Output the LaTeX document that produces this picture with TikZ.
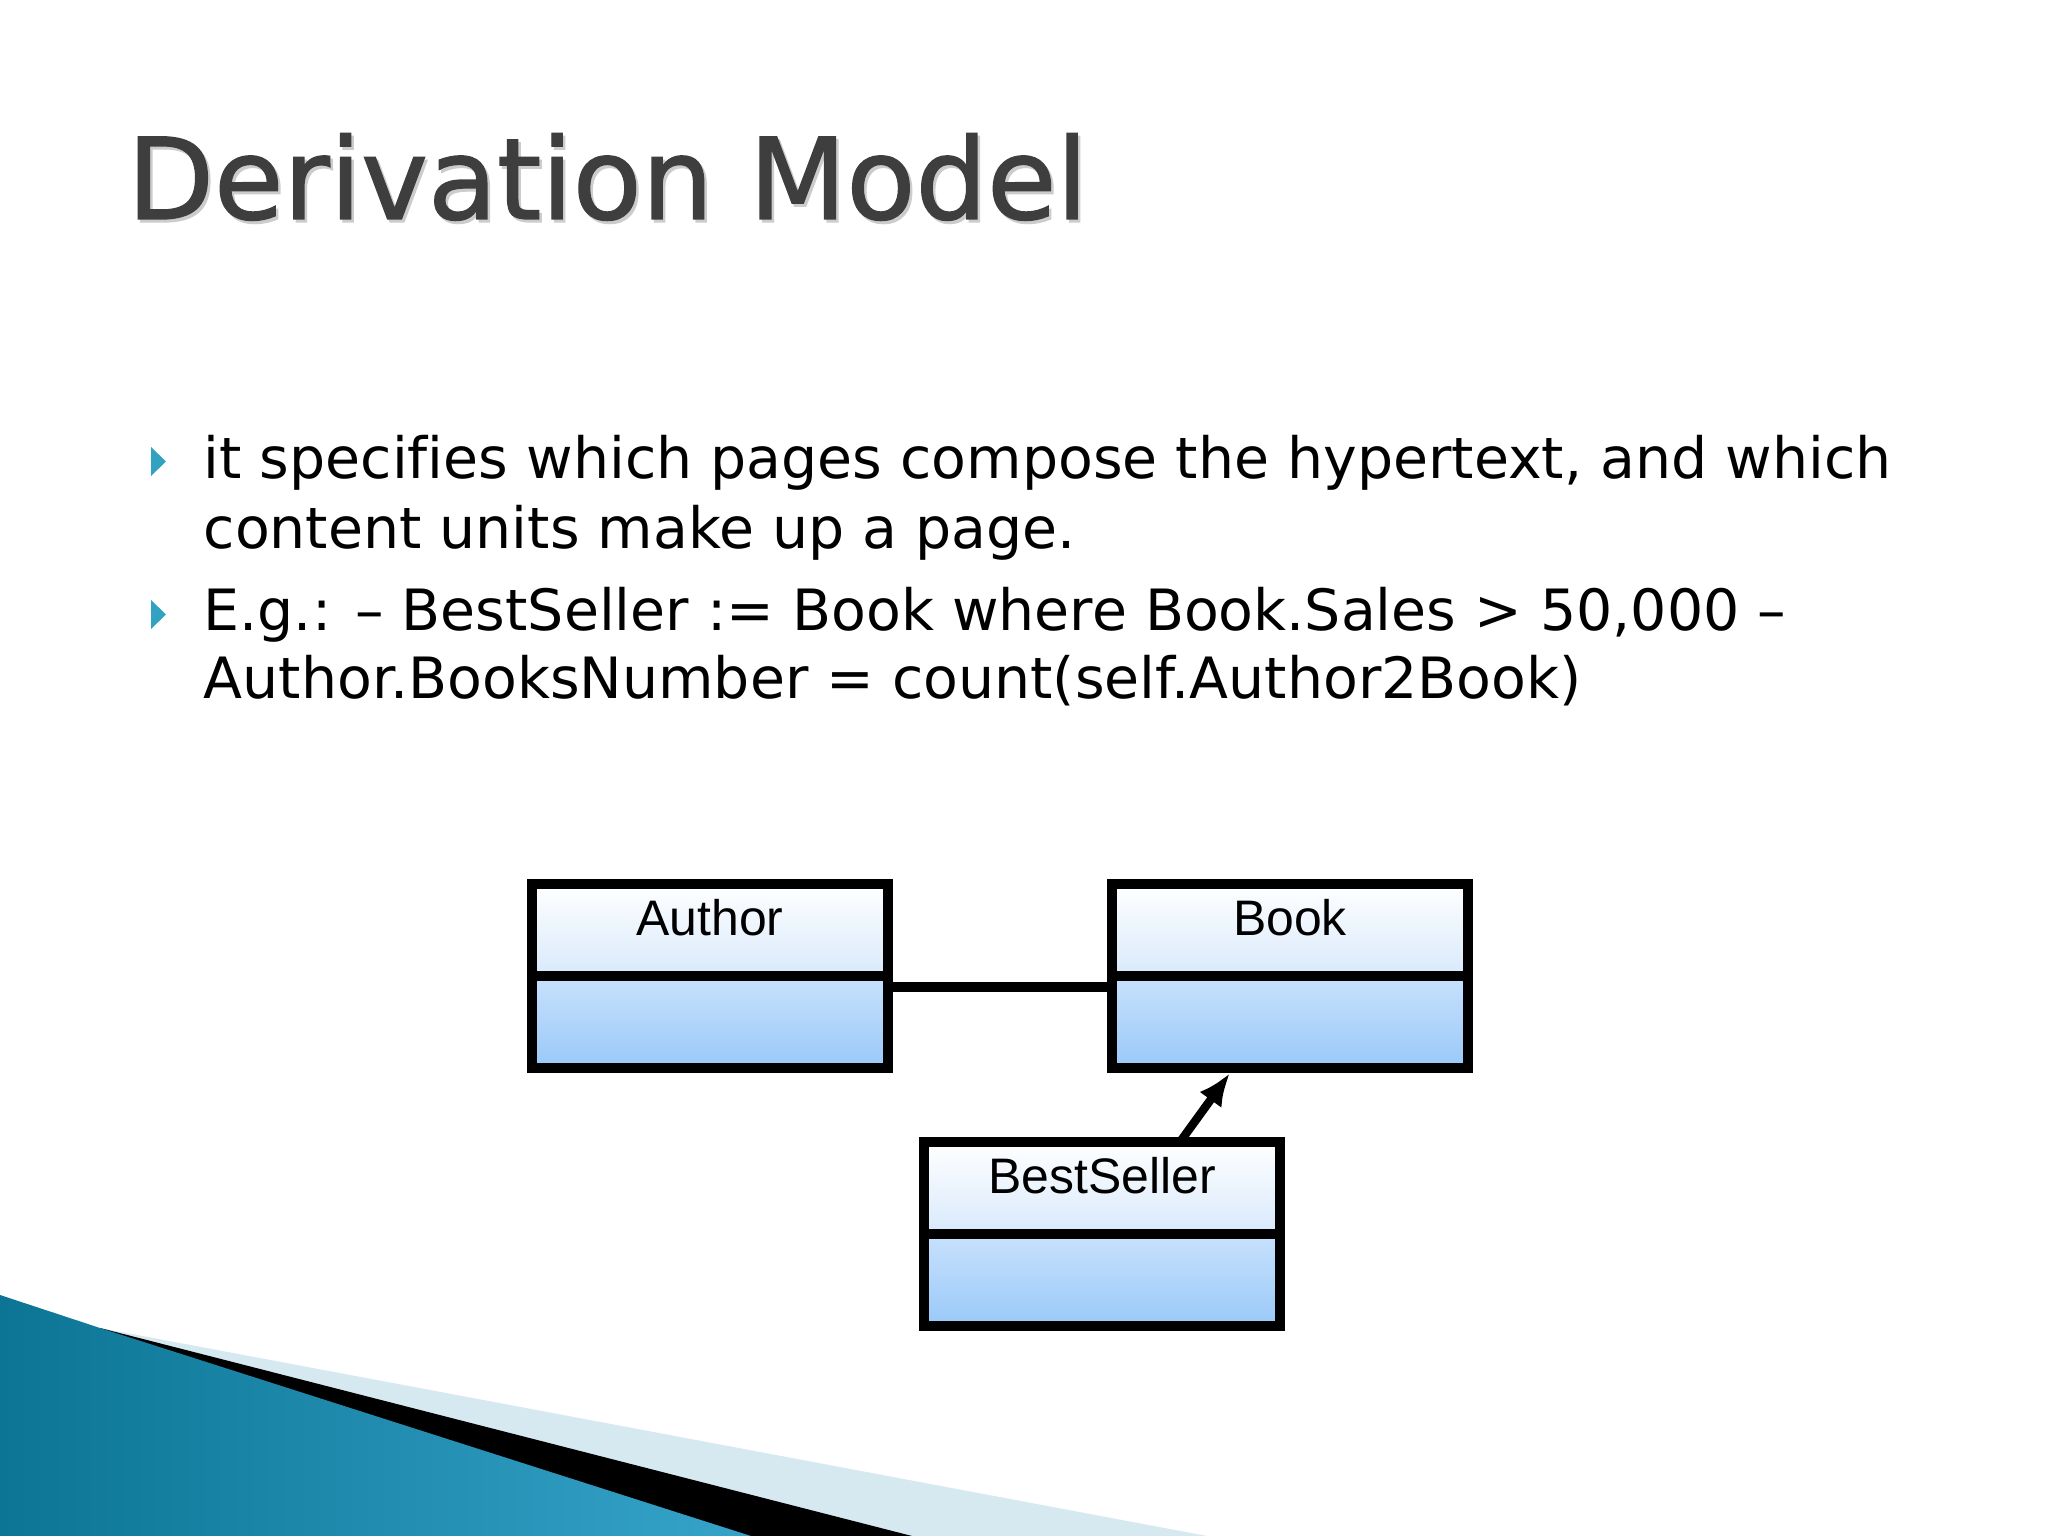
\documentclass[tikz,border=0pt]{standalone}
\usepackage{fontspec}
\setmainfont{DejaVu Sans}[Ligatures=CommonOff]
\newfontfamily\titlefont{DejaVu Sans}[FakeBold=1.2]
\newfontfamily\umlfont{Liberation Sans}
\usetikzlibrary{arrows.meta}
\usetikzlibrary{positioning}
\usetikzlibrary{shadows}
\definecolor{titlegray}{HTML}{3E3E3E}
\definecolor{bulletteal}{HTML}{31A3C1}
\definecolor{headblue}{HTML}{D8E9FB}
\definecolor{bodytop}{HTML}{C8E1FC}
\definecolor{bodybottom}{HTML}{99C9F8}
\definecolor{tealdark}{HTML}{0C7595}
\definecolor{teallight}{HTML}{5CC0E1}
\definecolor{tealmid}{HTML}{36A3C9}
\definecolor{paleband}{HTML}{D6E8F0}
\tikzset{
    umlhead/.style={draw=black, line width=2.6pt, outer sep=0pt, inner sep=0pt,
        minimum width=3.56cm, minimum height=0.92cm,
        top color=white, bottom color=headblue,
        font=\umlfont\fontsize{14.2}{16}\selectfont, text height=0.3cm, text depth=0.2cm,
        drop shadow={shadow xshift=0.02cm, shadow yshift=-0.02cm, fill=gray!70}},
    umlbody/.style={draw=black, line width=2.6pt, outer sep=0pt, inner sep=0pt,
        minimum width=3.56cm, minimum height=0.92cm,
        top color=bodytop, bottom color=bodybottom,
        drop shadow={shadow xshift=0.02cm, shadow yshift=-0.02cm, fill=gray!70}},
    assoc/.style={draw=black, line width=2.6pt},
    derive/.style={draw=black, line width=2.4pt, -{Latex[length=0.33cm,width=0.27cm]}},
    bullettext/.style={anchor=base west, inner sep=0pt, font=\fontsize{16.2}{19.9}\selectfont},
    bulletmark/.style={fill=bulletteal, draw=none},
    slidetitle/.style={anchor=base west, inner sep=0pt, font=\titlefont\fontsize{32.1}{38}\selectfont},
}

\begin{document}
\begin{tikzpicture}
    \useasboundingbox (0,0) rectangle (20.48,-15.36);
    \fill[white] (0,0) rectangle (20.48,-15.36);

    % title
    \node (titleshadow) [slidetitle, text=gray!40] at (1.29,-2.22) {Derivation Model};
    \node (title) [slidetitle, text=titlegray] at (1.265,-2.19) {Derivation Model};

    % bullets
    \foreach \y in {4.615,6.145}
        \fill[bulletmark] (1.51,{-\y+0.145}) -- (1.51,{-\y-0.145}) -- (1.66,-\y) -- cycle;
    \node (firsta) [bullettext] at (2.03,-4.79) {it specifies which pages compose the hypertext, and which};
    \node (firstb) [bullettext] at (2.03,-5.49) {content units make up a page.};
    \node (seconda) [bullettext] at (2.03,-6.31) {E.g.: – BestSeller := Book where Book.Sales > 50,000 –};
    \node (secondb) [bullettext] at (2.03,-6.99) {Author.BooksNumber = count(self.Author2Book)};

    % class boxes
    \node (authorhead) [umlhead] at (7.10,-9.30) {Author};
    \node (authorbody) [umlbody, below=0pt of authorhead] {};
    \node (bookhead) [umlhead, right=2.24cm of authorhead] {Book};
    \node (bookbody) [umlbody, below=0pt of bookhead] {};
    \node (sellerhead) [umlhead, below=0.74cm of bookbody, xshift=-1.88cm] {BestSeller};
    \node (sellerbody) [umlbody, below=0pt of sellerhead] {};

    \draw[assoc] ([yshift=-0.11cm]authorbody.north east) -- ([yshift=-0.11cm]bookbody.north west);
    \draw[derive] ([xshift=0.78cm]sellerhead.north) -- ([xshift=-0.6cm,yshift=-0.05cm]bookbody.south);

    % corner decoration
    \fill[paleband] (1.00,-13.28) -- (12.07,-15.36) -- (0,-15.36) -- cycle;
    \fill[black] (1.00,-13.28) -- (9.12,-15.36) -- (0,-15.36) -- cycle;
    \shade[left color=tealdark, middle color=teallight, right color=tealmid]
        (0,-12.95) -- (1.00,-13.28) -- (7.51,-15.36) -- (0,-15.36) -- cycle;
\end{tikzpicture}
\end{document}
